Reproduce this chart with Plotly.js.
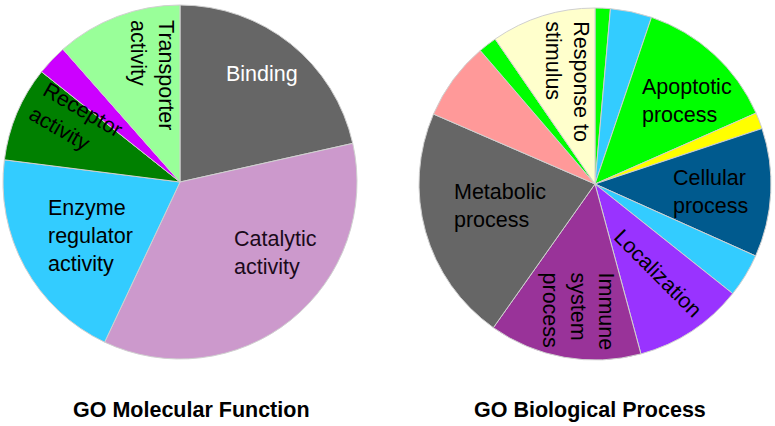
<!DOCTYPE html>
<html>
<head>
<meta charset="utf-8">
<script src="https://cdn.plot.ly/plotly-3.0.1.min.js"></script>
<style>html,body{margin:0;padding:0;background:#fff;}#chart{width:775px;height:426px;}</style>
</head>
<body>
<div id="chart"></div>
<script>
// ---------- DATA ----------
const mfLabels = ["Binding", "Catalytic activity", "Enzyme regulator activity", "Receptor activity", "Other (unlabeled)", "Transporter activity"];
const mfText   = ["Binding", "Catalytic<br>activity", "Enzyme<br>regulator<br>activity", "Receptor<br>activity", "", "Transporter<br>activity"];
const mfValues = [21.5, 35.5, 20.0, 8.7, 2.8, 11.5];

const bpLabels = ["Unlabeled 1", "Unlabeled 2", "Apoptotic process", "Unlabeled 3", "Cellular process", "Unlabeled 4",
                  "Localization", "Immune system process", "Metabolic process", "Unlabeled 5", "Unlabeled 6", "Response to stimulus"];
const bpText   = ["", "", "Apoptotic<br>process", "", "Cellular<br>process", "",
                  "Localization", "Immune<br>system<br>process", "Metabolic<br>process", "", "", "Response to<br>stimulus"];
const bpValues = [1.4, 3.8, 13.2, 1.5, 11.8, 4.0, 10.1, 14.0, 21.7, 7.2, 1.7, 9.6];

const chartTitles = ["GO Molecular Function", "GO Biological Process"];

// ---------- STYLE ----------
const W = 775, H = 426;
const mfColors = ["#666666", "#cc99cc", "#33ccff", "#008000", "#cc00ff", "#99ff99"];
const bpColors = ["#00ff00", "#33ccff", "#00ff00", "#ffff00", "#005a8e", "#33ccff",
                  "#9933ff", "#993399", "#666666", "#ff9999", "#00ff00", "#ffffcc"];
const mfTextColors = ["#ffffff", "#1a0a1a", "#000000", "#000000", "#000000", "#000000"];
const bpTextColors = Array(12).fill("#000000");
// label placement tweaks: radius fraction, angle offset from slice middle (deg), text rotation
const mfLabelR = [0.766, 0.675, 0.588, 0.68, 0, 0.625];
const mfLabelDA = [-1.5, -14.7, -2.4, 7.0, 0, 6];
const mfLabelRot = [0, 0, 0, 30, 0, 90];
const bpLabelR = [0, 0, 0.704, 0, 0.655, 0, 0.624, 0.733, 0.554, 0, 0, 0.605];
const bpLabelDA = [0, 0, 5.2, 0, 0.95, 0, -1.9, -2.7, 2.6, 0, 0, 1.6];
const bpLabelRot = [0, 0, 0, 0, 0, 0, 45, 90, 0, 0, 0, 90];

// pie geometry in pixels (center and radius)
const mfPie = {cx: 180, cy: 182, r: 177};
const bpPie = {cx: 595, cy: 184, r: 176};
const titleX = [191, 590], titleY = 410;

const FONT = "Liberation Sans, Arial, sans-serif";
const LABEL_SIZE = 21.5, TITLE_SIZE = 21.5;

function domainOf(p) {
  return {
    x: [(p.cx - p.r) / W, (p.cx + p.r) / W],
    y: [1 - (p.cy + p.r) / H, 1 - (p.cy - p.r) / H]
  };
}

function labelAnnotations(values, texts, colors, rFrac, dAng, rot, p) {
  const total = values.reduce((a, b) => a + b, 0);
  let cum = 0;
  const out = [];
  values.forEach((v, i) => {
    const a0 = cum / total * 360;
    cum += v;
    const a1 = cum / total * 360;
    if (!texts[i]) return;
    const th = ((a0 + a1) / 2 + dAng[i]) * Math.PI / 180;
    const px = p.cx + rFrac[i] * p.r * Math.sin(th);
    const py = p.cy - rFrac[i] * p.r * Math.cos(th);
    out.push({
      xref: "paper", yref: "paper", x: px / W, y: 1 - py / H,
      xanchor: "center", yanchor: "middle", showarrow: false,
      text: texts[i], align: "left", textangle: rot[i],
      font: {family: FONT, size: LABEL_SIZE, color: colors[i]}
    });
  });
  return out;
}

const common = {
  type: "pie", sort: false, direction: "clockwise", rotation: 0,
  textinfo: "none", hoverinfo: "label+percent", showlegend: false
};

const traces = [
  Object.assign({}, common, {
    labels: mfLabels, values: mfValues, domain: domainOf(mfPie),
    marker: {colors: mfColors, line: {color: "#d0d0d0", width: 1}}
  }),
  Object.assign({}, common, {
    labels: bpLabels, values: bpValues, domain: domainOf(bpPie),
    marker: {colors: bpColors, line: {color: "#d0d0d0", width: 1}}
  })
];

const annotations = []
  .concat(labelAnnotations(mfValues, mfText, mfTextColors, mfLabelR, mfLabelDA, mfLabelRot, mfPie))
  .concat(labelAnnotations(bpValues, bpText, bpTextColors, bpLabelR, bpLabelDA, bpLabelRot, bpPie))
  .concat(chartTitles.map((t, i) => ({
    xref: "paper", yref: "paper", x: titleX[i] / W, y: 1 - titleY / H,
    xanchor: "center", yanchor: "middle", showarrow: false,
    text: "<b>" + t + "</b>",
    font: {family: FONT, size: TITLE_SIZE, color: "#000000"}
  })));

const layout = {
  width: W, height: H,
  margin: {l: 0, r: 0, t: 0, b: 0},
  paper_bgcolor: "#ffffff", plot_bgcolor: "#ffffff",
  showlegend: false,
  annotations: annotations
};

Plotly.newPlot("chart", traces, layout, {displayModeBar: false, staticPlot: true});
</script>
</body>
</html>
